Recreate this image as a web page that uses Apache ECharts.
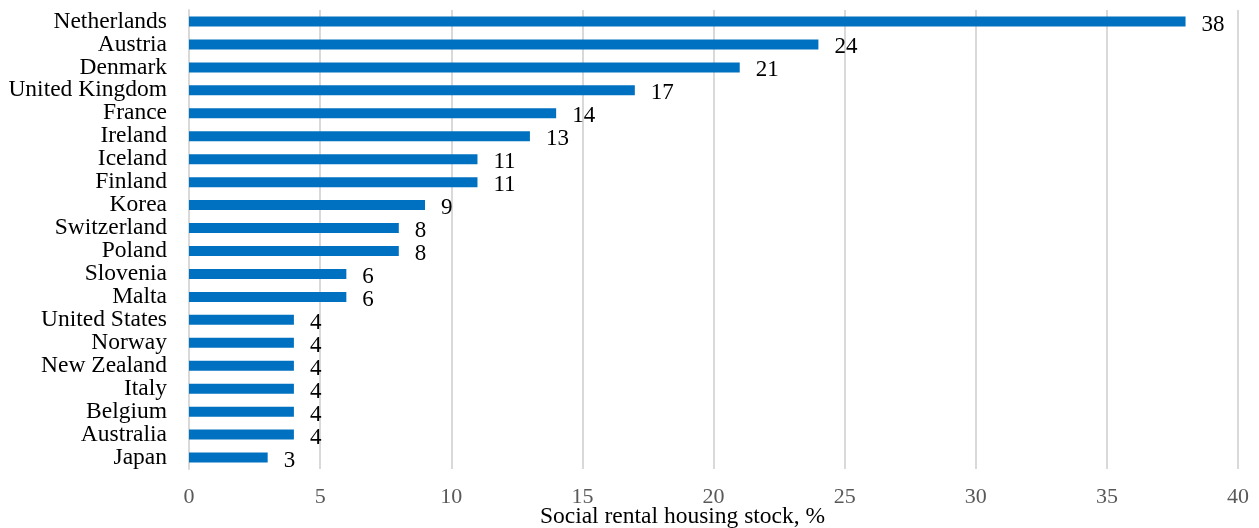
<!DOCTYPE html>
<html><head><meta charset="utf-8">
<script src="https://cdn.jsdelivr.net/npm/echarts@6/dist/echarts.min.js"></script>
<style>html,body{margin:0;padding:0;background:#fff}#c{width:1259px;height:528px}</style>
</head><body><div id="c"></div>
<script>
const categories = ["Netherlands","Austria","Denmark","United Kingdom","France","Ireland","Iceland","Finland","Korea","Switzerland","Poland","Slovenia","Malta","United States","Norway","New Zealand","Italy","Belgium","Australia","Japan"];
const values = [38,24,21,17,14,13,11,11,9,8,8,6,6,4,4,4,4,4,4,3];
const xTicks = {min:0,max:40,interval:5};
const axisTitle = "Social rental housing stock, %";
const font = "'Liberation Serif','Times New Roman',serif";
const chart = echarts.init(document.getElementById('c'), null, {renderer:'canvas'});
chart.setOption({
  animation:false,
  grid:{left:189,right:21,top:10,bottom:59,containLabel:false,outerBoundsMode:'none'},
  xAxis:{type:'value',min:xTicks.min,max:xTicks.max,interval:xTicks.interval,
    name:axisTitle,nameLocation:'middle',nameGap:36,nameMoveOverlap:false,
    nameTextStyle:{fontFamily:font,fontSize:23.5,color:'#000',padding:[0,62,0,0]},
    axisLine:{show:false},axisTick:{show:false},
    axisLabel:{fontFamily:font,fontSize:22,color:'#595959',margin:17},
    splitLine:{show:true,lineStyle:{color:'#d9d9d9',width:2}}},
  yAxis:{type:'category',data:categories,inverse:true,
    axisLine:{show:true,lineStyle:{color:'#d9d9d9',width:2}},axisTick:{show:false},
    axisLabel:{interval:0,fontFamily:font,fontSize:23.5,color:'#000',margin:22}},
  series:[{type:'bar',data:values,barWidth:10,itemStyle:{color:'#0070C0'},
    label:{show:true,position:'right',distance:16,fontFamily:font,fontSize:23,color:'#000',offset:[0,3]}}]
});
</script></body></html>
